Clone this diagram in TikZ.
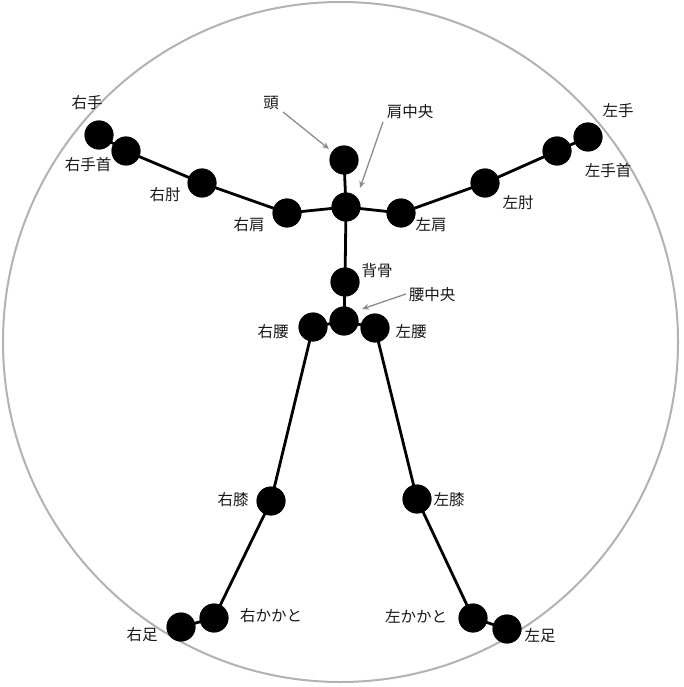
\documentclass[tikz,border=0pt]{standalone}
\usepackage{fontspec}
\setmainfont{Noto Sans CJK JP}
\usetikzlibrary{arrows.meta}
\begin{document}
\begin{tikzpicture}[x=1pt,y=-1pt,
  joint/.style={circle,fill=black,draw=black,line width=0.6pt,minimum size=28.5pt,inner sep=0pt},
  bone/.style={line width=2.8pt,black},
  lbl/.style={font=\fontsize{15.5}{17}\selectfont,text=black!90,inner sep=0pt},
  pointer/.style={draw=black!45,line width=1.3pt,-{Stealth[length=7pt,width=6pt]}}]
\useasboundingbox (0,0) rectangle (683,687);
\draw[black!30,line width=2pt] (340.5,342) ellipse [x radius=337.5,y radius=340];
% coordinates
\coordinate (head) at (344,160);
\coordinate (sc) at (346,207);
\coordinate (rs) at (287,213);
\coordinate (ls) at (401,213);
\coordinate (re) at (202,183);
\coordinate (le) at (485,183);
\coordinate (rw) at (126,151);
\coordinate (lw) at (557,151);
\coordinate (rh) at (99,135);
\coordinate (lh) at (588,137);
\coordinate (sp) at (345,282);
\coordinate (hc) at (344,321);
\coordinate (rhip) at (313,327);
\coordinate (lhip) at (375,328);
\coordinate (rk) at (271,501);
\coordinate (lk) at (417,499);
\coordinate (ra) at (214,618);
\coordinate (la) at (473,618);
\coordinate (rf) at (181,627);
\coordinate (lf) at (507,629);
% bones
\draw[bone] (head) -- (sc) -- (sp) -- (hc);
\draw[bone] (sc) -- (rs) -- (re) -- (rw) -- (rh);
\draw[bone] (sc) -- (ls) -- (le) -- (lw) -- (lh);
\draw[bone] (hc) -- (rhip) -- (rk) -- (ra) -- (rf);
\draw[bone] (hc) -- (lhip) -- (lk) -- (la) -- (lf);
% joints
\foreach \j in {head,sc,rs,ls,re,le,rw,lw,rh,lh,sp,hc,rhip,lhip,rk,lk,ra,la,rf,lf}
  \node[joint] (n\j) at (\j) {};
% labels
\node[lbl] (t1) at (87,103) {右手};
\node[lbl] (t2) at (88,165) {右手首};
\node[lbl] (t3) at (165,195) {右肘};
\node[lbl] (t4) at (249,225) {右肩};
\node[lbl] (t5) at (271,103) {頭};
\node[lbl] (t6) at (410,112) {肩中央};
\node[lbl] (t7) at (431,225) {左肩};
\node[lbl] (t8) at (618,111) {左手};
\node[lbl] (t9) at (608,171) {左手首};
\node[lbl] (t10) at (518,203) {左肘};
\node[lbl] (t11) at (377,271) {背骨};
\node[lbl] (t12) at (432,295) {腰中央};
\node[lbl] (t13) at (273,332) {右腰};
\node[lbl] (t14) at (411,332) {左腰};
\node[lbl] (t15) at (233,500) {右膝};
\node[lbl] (t16) at (271,616) {右かかと};
\node[lbl] (t17) at (142,635) {右足};
\node[lbl] (t18) at (449,500) {左膝};
\node[lbl] (t19) at (416,616) {左かかと};
\node[lbl] (t20) at (540,636) {左足};
% pointers
\coordinate (a1s) at (283,112);
\coordinate (a1e) at (329,149);
\coordinate (a2s) at (383,122);
\coordinate (a2e) at (360,188);
\coordinate (a3s) at (406,294);
\coordinate (a3e) at (362,309);
\draw[pointer] (a1s) -- (a1e);
\draw[pointer] (a2s) -- (a2e);
\draw[pointer] (a3s) -- (a3e);
\end{tikzpicture}
\end{document}
